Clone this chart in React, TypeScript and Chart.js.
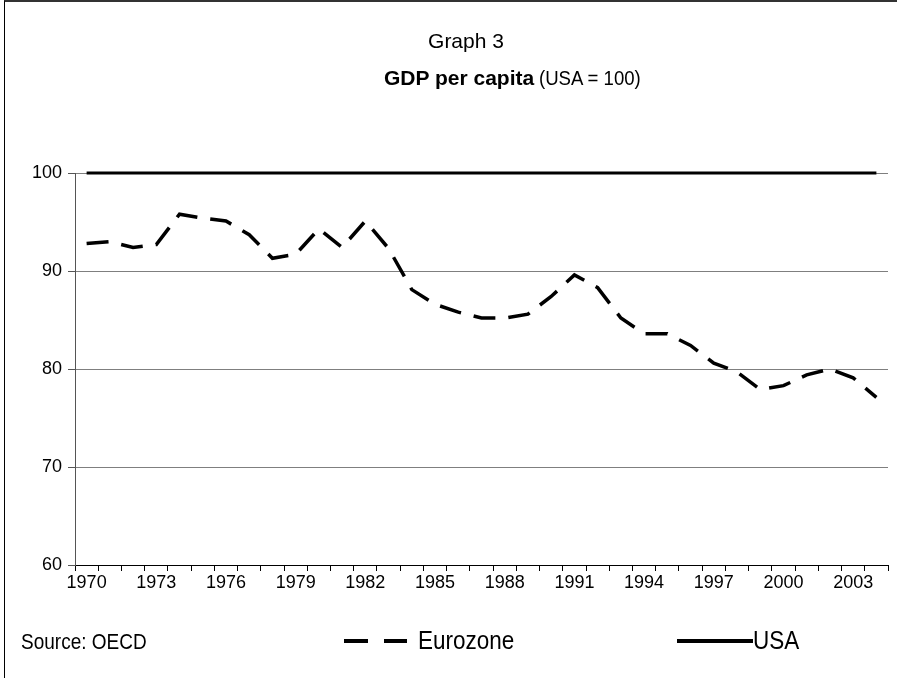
import React, { useEffect, useRef } from "react";
import { Chart, registerables } from "chart.js";

Chart.register(...registerables);

const years: string[] = [
  "1970", "1971", "1972", "1973", "1974", "1975", "1976", "1977", "1978", "1979",
  "1980", "1981", "1982", "1983", "1984", "1985", "1986", "1987", "1988", "1989",
  "1990", "1991", "1992", "1993", "1994", "1995", "1996", "1997", "1998", "1999",
  "2000", "2001", "2002", "2003", "2004",
];

const eurozone: number[] = [
  92.8, 93.0, 92.4, 92.7, 95.8, 95.4, 95.1, 93.7, 91.3, 91.7,
  94.3, 92.4, 95.1, 92.3, 88.1, 86.6, 85.8, 85.2, 85.2, 85.6,
  87.4, 89.6, 88.3, 85.2, 83.6, 83.6, 82.4, 80.6, 79.7, 77.9,
  78.3, 79.4, 80.0, 79.1, 77.1,
];

const usa: number[] = [
  100, 100, 100, 100, 100, 100, 100, 100, 100, 100,
  100, 100, 100, 100, 100, 100, 100, 100, 100, 100,
  100, 100, 100, 100, 100, 100, 100, 100, 100, 100,
  100, 100, 100, 100, 100,
];

const yTicks: number[] = [60, 70, 80, 90, 100];

const FONT = '"Liberation Sans", Arial, sans-serif';

export default function App() {
  const ref = useRef<HTMLCanvasElement | null>(null);

  useEffect(() => {
    if (!ref.current) return;
    const chart = new Chart(ref.current, {
      type: "line",
      data: {
        labels: years,
        datasets: [
          {
            label: "Eurozone",
            data: eurozone,
            borderColor: "#000",
            borderWidth: 3.5,
            borderDash: [22, 13],
            pointRadius: 0,
            tension: 0,
            fill: false,
            clip: false,
          },
          {
            label: "USA",
            data: usa,
            borderColor: "#000",
            borderWidth: 3,
            pointRadius: 0,
            tension: 0,
            fill: false,
            clip: false,
          },
        ],
      },
      options: {
        responsive: false,
        animation: false,
        layout: { padding: { left: 0, top: 173, right: 9, bottom: 0 } },
        plugins: {
          legend: { display: false },
          tooltip: { enabled: false },
          title: { display: false },
        },
        scales: {
          x: {
            type: "category",
            offset: true,
            grid: {
              offset: true,
              drawOnChartArea: false,
              drawTicks: true,
              tickLength: 6,
              tickColor: "#000",
            },
            border: { color: "#000", width: 1 },
            ticks: {
              autoSkip: false,
              maxRotation: 0,
              minRotation: 0,
              color: "#000",
              padding: 1,
              font: { family: FONT, size: 18 },
              callback: (_v: any, i: number) => (i % 3 === 0 ? years[i] : ""),
            },
            afterFit: (scale: any) => {
              scale.height = 113;
            },
          },
          y: {
            min: yTicks[0],
            max: yTicks[yTicks.length - 1],
            afterBuildTicks: (scale: any) => {
              scale.ticks = yTicks.map((v) => ({ value: v }));
            },
            grid: {
              color: (c: any) => (c.tick && c.tick.value === 60 ? "#000" : "#7f7f7f"),
              tickColor: "#555",
              tickLength: 7,
              lineWidth: 1,
            },
            border: { color: "#555", width: 1 },
            ticks: {
              color: "#000",
              padding: 6,
              font: { family: FONT, size: 18 },
            },
            afterFit: (scale: any) => {
              scale.width = 75;
            },
          },
        },
      },
    });
    return () => chart.destroy();
  }, []);

  const abs = (o: React.CSSProperties): React.CSSProperties => ({ position: "absolute", ...o });
  const txt = (o: React.CSSProperties, sy: number): React.CSSProperties =>
    abs({
      fontFamily: FONT,
      color: "#000",
      whiteSpace: "nowrap",
      transform: `scaleY(${sy})`,
      transformOrigin: "left center",
      ...o,
    });

  return (
    <div style={{ position: "absolute", left: 0, top: 0, width: 897, height: 678, background: "#fff", overflow: "hidden" }}>
      <div style={abs({ left: 4, top: 0, width: 900, height: 700, borderTop: "2px solid #333", borderLeft: "1px solid #000", boxSizing: "border-box" })} />
      <canvas ref={ref} width={897} height={678} style={abs({ left: 0, top: 0, width: 897, height: 678 })} />
      <div style={txt({ left: 266, top: 30, width: 400, textAlign: "center", fontSize: 21, lineHeight: "21px" }, 1.0)}>
        Graph 3
      </div>
      <div style={abs({ left: 384, top: 67, fontFamily: FONT, color: "#000", whiteSpace: "nowrap", fontSize: 21, lineHeight: "21px" })}>
        <b>GDP per capita</b>
      </div>
      <div style={txt({ left: 539, top: 67, fontSize: 18.6, lineHeight: "21px" }, 1.13)}>
        (USA = 100)
      </div>
      <div style={txt({ left: 21, top: 632, fontSize: 19, lineHeight: "19px" }, 1.18)}>
        Source: OECD
      </div>
      <div style={abs({ left: 344, top: 639, width: 24, height: 4, background: "#000" })} />
      <div style={abs({ left: 384, top: 639, width: 23, height: 4, background: "#000" })} />
      <div style={txt({ left: 418, top: 630, fontSize: 22.5, lineHeight: "22px" }, 1.15)}>
        Eurozone
      </div>
      <div style={abs({ left: 677, top: 639, width: 76, height: 3.5, background: "#000" })} />
      <div style={txt({ left: 753, top: 630, fontSize: 22.5, lineHeight: "22px" }, 1.15)}>
        USA
      </div>
    </div>
  );
}
